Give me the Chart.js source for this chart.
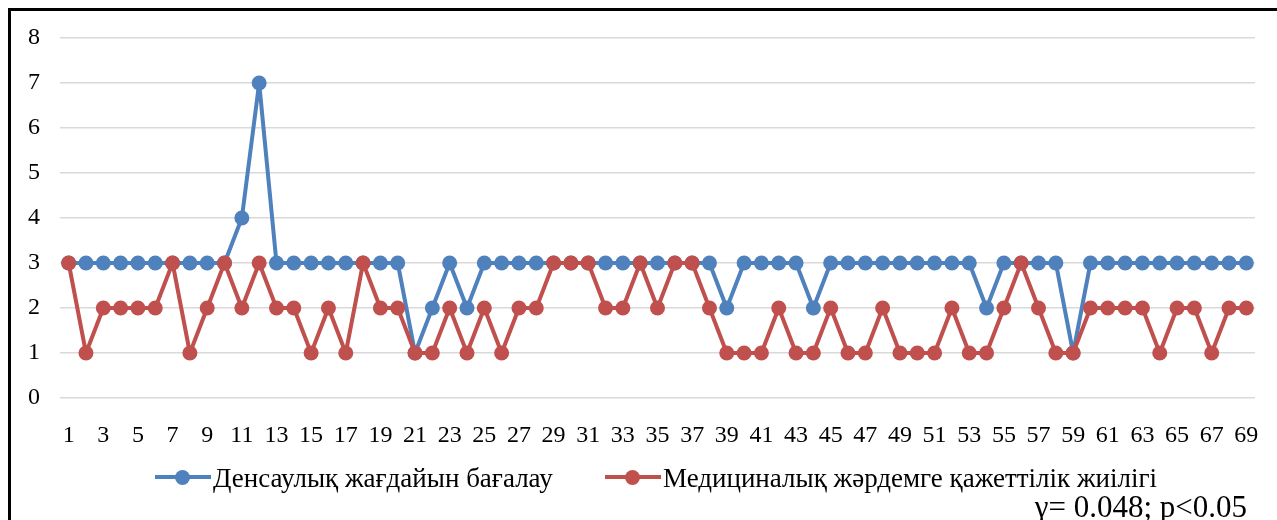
<!DOCTYPE html>
<html>
<head>
<meta charset="utf-8">
<script src="https://cdn.jsdelivr.net/npm/chart.js@4.4.1/dist/chart.umd.min.js"></script>
<style>
    body{ margin:0; background:#fff; }
    #quadro{ position:relative; width:1277px; height:520px; overflow:hidden; background:#fff; font-family:"Liberation Serif", "Times New Roman", serif; }
    #grafico{ position:absolute; left:0; top:0; }
    #moldura{ position:absolute; left:8px; top:8px; width:1300px; height:600px; border:3px solid #000; box-sizing:border-box; pointer-events:none; }
    .itemLegenda{ position:absolute; top:462px; font-size:27px; color:#000; white-space:nowrap; line-height:32px; }
    .simbolo{ position:absolute; top:13px; width:56px; height:4px; }
    .simbolo::after{ content:""; position:absolute; left:20px; top:-5.5px; width:15px; height:15px; border-radius:50%; background:inherit; }
    .texto{ position:absolute; left:58px; top:0; }
    #nota{ position:absolute; right:30px; top:489px; font-size:31px; line-height:35px; color:#000; white-space:nowrap; }
</style>
</head>
<body>
<div id="quadro">
    <canvas id="grafico" width="1277" height="520"></canvas>
    <div id="moldura"></div>
    <div class="itemLegenda" style="left:155px">
        <span class="simbolo" style="background:#4f81bd"></span>
        <span class="texto">Денсаулық жағдайын бағалау</span>
    </div>
    <div class="itemLegenda" style="left:605px">
        <span class="simbolo" style="background:#c0504d"></span>
        <span class="texto">Медициналық жәрдемге қажеттілік жиілігі</span>
    </div>
    <div id="nota">γ= 0.048; p&lt;0.05</div>
</div>
<script>
// dados
let categorias = [1,2,3,4,5,6,7,8,9,10,11,12,13,14,15,16,17,18,19,20,21,22,23,24,25,26,27,28,29,30,
    31,32,33,34,35,36,37,38,39,40,41,42,43,44,45,46,47,48,49,50,51,52,53,54,55,56,57,58,59,60,
    61,62,63,64,65,66,67,68,69];

let avaliacaoSaude = [3,3,3,3,3,3,3,3,3,3,4,7,3,3,3,3,3,3,3,3,1,2,3,2,3,3,3,3,3,3,
    3,3,3,3,3,3,3,3,2,3,3,3,3,2,3,3,3,3,3,3,3,3,3,2,3,3,3,3,1,3,
    3,3,3,3,3,3,3,3,3];

let frequenciaAjuda = [3,1,2,2,2,2,3,1,2,3,2,3,2,2,1,2,1,3,2,2,1,1,2,1,2,1,2,2,3,3,
    3,2,2,3,2,3,3,2,1,1,1,2,1,1,2,1,1,2,1,1,1,2,1,1,2,3,2,1,1,2,
    2,2,2,1,2,2,1,2,2];

let nomesSeries = ["Денсаулық жағдайын бағалау", "Медициналық жәрдемге қажеттілік жиілігі"];
let eixoYMin = 0;
let eixoYMax = 8;

let fonteEixos = { family: "'Liberation Serif', 'Times New Roman', serif", size: 24 };

var ctx = document.getElementById('grafico').getContext('2d');

var meuGrafico = new Chart(ctx, {
    type: 'line',
    data: {
        labels: categorias,
        datasets: [{
            label: nomesSeries[0],
            data: avaliacaoSaude,
            borderColor: '#4f81bd',
            backgroundColor: '#4f81bd',
            borderWidth: 4,
            borderJoinStyle: 'round',
            pointRadius: 7.5,
            pointBorderWidth: 0,
            tension: 0,
            order: 1
        }, {
            label: nomesSeries[1],
            data: frequenciaAjuda,
            borderColor: '#c0504d',
            backgroundColor: '#c0504d',
            borderWidth: 4,
            borderJoinStyle: 'round',
            pointRadius: 7.5,
            pointBorderWidth: 0,
            tension: 0,
            order: 0
        }]
    },
    options: {
        responsive: false,
        animation: false,
        devicePixelRatio: 1,
        layout: { padding: { left: 0, right: 22, top: 38, bottom: 72 } },
        plugins: {
            legend: { display: false },
            tooltip: { enabled: false }
        },
        scales: {
            x: {
                offset: true,
                grid: { display: false },
                border: { display: false },
                ticks: {
                    autoSkip: false,
                    maxRotation: 0,
                    padding: 15,
                    color: '#000',
                    font: fonteEixos,
                    callback: function(valor, indice){
                        return indice % 2 === 0 ? categorias[indice] : '';
                    }
                },
                afterFit: function(escala){ escala.height = 50; }
            },
            y: {
                min: eixoYMin,
                max: eixoYMax,
                grid: { color: '#d9d9d9', lineWidth: 1.5, drawTicks: false },
                border: { display: false },
                ticks: {
                    stepSize: 1,
                    padding: 20,
                    color: '#000',
                    font: fonteEixos
                },
                afterFit: function(escala){ escala.width = 60; }
            }
        }
    }
});
</script>
</body>
</html>
